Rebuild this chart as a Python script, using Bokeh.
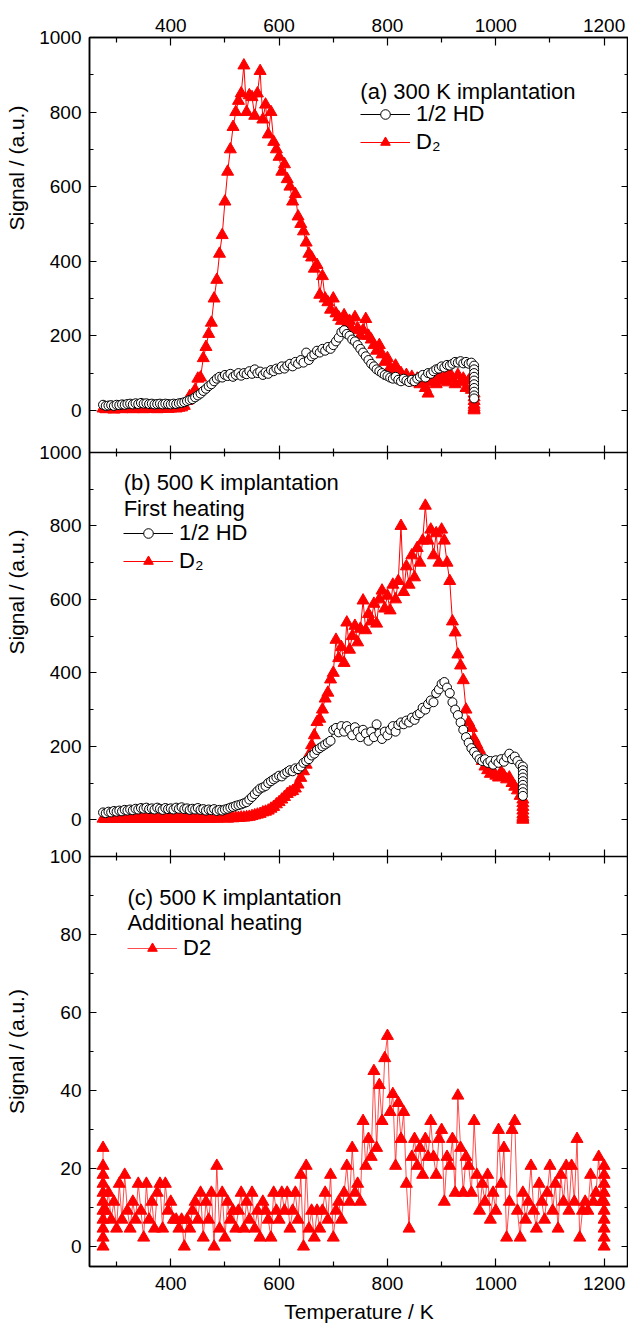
from bokeh.plotting import figure
from bokeh.models import (Range1d, LinearAxis, FixedTicker, Legend, LegendItem,
                          Label, CustomJSTickFormatter)
from bokeh.embed import file_html
from bokeh.resources import INLINE

FONT = "Liberation Sans"

# ---------------- data ----------------
x_major = [400, 600, 800, 1000, 1200]
x_minor = [300, 500, 700, 900, 1100]
y_major_ab = [0, 200, 400, 600, 800, 1000]
y_minor_ab = [100, 300, 500, 700, 900]
y_major_c = [0, 20, 40, 60, 80, 100]
y_minor_c = [10, 30, 50, 70, 90]

# (a) 300 K implantation
T_a = list(range(275, 960, 5))
a_d2_main = [
    5, 3, 4, 6, 2, 5, 4, 3, 6, 5,
    4, 3, 5, 6, 4, 3, 5, 4, 6, 5,
    3, 4, 5, 6, 4, 5, 6, 5, 7, 8,
    12, 25, 38, 42, 55, 85, 88, 140, 170, 205,
    235, 300, 350, 420, 470, 560, 640, 700, 760, 800,
    830, 850, 925, 800, 845, 840, 790, 850, 910, 780,
    820, 740, 800, 720, 700, 680, 640, 660, 620, 600,
    560, 580, 520, 500, 480, 450, 420, 410, 380, 390,
    310, 360, 300, 290, 270, 300, 260, 250, 240, 255,
    230, 240, 215, 250, 220, 200, 215, 245, 200, 190,
    175, 160, 175, 150, 130, 140, 115, 105, 120, 95,
    100, 85, 95, 80, 90, 75, 85, 70, 80, 60,
    45, 75, 85, 70, 95, 80, 90, 75, 100, 85,
    70, 95, 75, 85, 60, 80, 55]
a_d2_end = [45, 35, 25, 15, 8, 3, 0]
a_hd_main = [
    15, 12, 13, 14, 12, 15, 14, 16, 15, 17,
    18, 16, 19, 17, 20, 18, 19, 17, 18, 16,
    17, 18, 16, 18, 17, 16, 18, 17, 19, 20,
    22, 25, 28, 30, 35, 40, 45, 52, 58, 65,
    70, 78, 85, 90, 88, 95, 92, 98, 90, 95,
    100, 93, 100, 97, 105, 98, 110, 100, 104, 95,
    102, 98, 108, 105, 112, 110, 118, 112, 120, 125,
    118, 130, 125, 135, 128, 155, 135, 145, 150, 160,
    155, 165, 160, 170, 165, 175, 185, 195, 210, 215,
    205, 200, 190, 185, 175, 165, 155, 145, 135, 125,
    118, 110, 105, 100, 95, 92, 88, 85, 90, 82,
    78, 85, 80, 76, 82, 78, 85, 90, 95, 88,
    100, 98, 105, 110, 112, 118, 115, 122, 120, 125,
    130, 128, 132, 126, 130, 125, 128]
a_hd_end = [120, 110, 100, 90, 80, 70, 60, 50, 40, 32]

# (b) 500 K implantation, first heating
T_b = list(range(275, 1050, 5))
b_hd_main = [
    20, 18, 22, 20, 24, 22, 25, 23, 27, 25,
    28, 26, 30, 28, 32, 30, 33, 29, 31, 28,
    33, 30, 27, 32, 29, 31, 28, 33, 30, 34,
    29, 31, 27, 30, 28, 32, 27, 29, 25, 28,
    26, 29, 24, 27, 25, 28, 30, 33, 35, 38,
    40, 42, 45, 48, 55, 62, 70, 78, 85, 88,
    92, 100, 105, 110, 115, 120, 118, 125, 130, 135,
    132, 140, 138, 145, 155, 160, 165, 175, 180, 190,
    195, 200, 205, 210, 215, 245, 250, 238, 255, 240,
    255, 245, 230, 252, 240, 225, 245, 235, 215, 240,
    225, 260, 235, 220, 240, 230, 245, 255, 240, 258,
    265, 260, 270, 265, 278, 272, 285, 290, 305, 300,
    315, 325, 320, 345, 355, 370, 375, 360, 345, 320,
    300, 285, 265, 245, 225, 210, 195, 185, 175, 165,
    160, 165, 155, 160, 150, 162, 155, 165, 158, 170,
    180, 165, 172, 160, 150]
b_hd_end = [145, 135, 125, 115, 105, 95, 85, 75, 65]
b_d2_main = [
    3, 2, 4, 3, 2, 3, 4, 2, 3, 2,
    3, 4, 2, 3, 2, 3, 4, 3, 2, 3,
    2, 3, 4, 3, 2, 3, 3, 4, 2, 3,
    3, 2, 3, 4, 3, 2, 3, 3, 4, 3,
    4, 3, 3, 4, 5, 4, 3, 5, 4, 5,
    5, 6, 6, 7, 8, 10, 12, 14, 16, 20,
    22, 25, 30, 35, 42, 48, 55, 62, 70, 75,
    78, 85, 96, 114, 132, 150, 176, 203, 230, 266,
    275, 300, 330, 346, 382, 400, 490, 440, 470, 427,
    537, 463, 500, 528, 483, 520, 597, 516, 560, 540,
    588, 534, 600, 624, 575, 610, 570, 640, 600, 650,
    800, 620, 690, 640, 720, 660, 740, 700, 760, 855,
    760, 790, 720, 780, 700, 790, 760, 700, 650, 540,
    510, 450, 420, 380, 300, 265, 250, 220, 205, 190,
    160, 145, 135, 125, 128, 120, 115, 130, 120, 110,
    115, 100, 90, 80, 65]
b_d2_end = [55, 45, 35, 25, 15, 8, 3, 0]

# (c) 500 K implantation, additional heating
c_start = [25.3, 20.7, 18.4, 16.1, 13.8, 11.5, 9.2, 6.9, 4.6, 2.3, 0]
T_c_main = list(range(280, 1200, 5))
c_main = [
    9.2, 13.8, 6.9, 11.5, 4.6, 16.1, 6.9, 18.4, 9.2, 4.6,
    11.5, 6.9, 16.1, 9.2, 2.3, 16.1, 6.9, 11.5, 4.6, 13.8,
    16.1, 4.6, 16.1, 9.2, 11.5, 6.9, 6.9, 4.6, 6.9, 0,
    6.9, 4.6, 9.2, 11.5, 6.9, 13.8, 2.3, 11.5, 6.9, 13.8,
    0, 20.7, 4.6, 13.8, 2.3, 11.5, 6.9, 9.2, 4.6, 9.2,
    13.8, 4.6, 11.5, 6.9, 13.8, 4.6, 9.2, 2.3, 11.5, 9.2,
    6.9, 2.3, 13.8, 9.2, 6.9, 13.8, 9.2, 13.8, 4.6, 9.2,
    13.8, 6.9, 18.4, 0, 20.7, 4.6, 9.2, 2.3, 9.2, 4.6,
    9.2, 13.8, 6.9, 18.4, 2.3, 9.2, 11.5, 6.9, 13.8, 20.7,
    11.5, 25.3, 13.8, 16.1, 11.5, 32.2, 20.7, 27.6, 23, 45,
    25.3, 41.4, 32.2, 48.3, 54, 34.5, 39.1, 20.7, 36.8, 27.6,
    34.5, 16.1, 4.6, 23, 27.6, 20.7, 25.3, 18.4, 27.6, 23,
    32.2, 23, 18.4, 27.6, 29.9, 11.5, 23, 20.7, 27.6, 13.8,
    38.7, 25.3, 13.8, 23, 20.7, 13.8, 32.2, 18.4, 9.2, 16.1,
    11.5, 18.4, 6.9, 13.8, 9.2, 29.9, 16.1, 25.3, 2.3, 11.5,
    29.9, 32.2, 9.2, 2.3, 13.8, 6.9, 11.5, 20.7, 9.2, 4.6,
    16.1, 11.5, 6.9, 13.8, 20.7, 9.2, 16.1, 4.6, 18.4, 11.5,
    20.7, 9.2, 20.7, 11.5, 27.6, 2.3, 9.2, 11.5, 9.2, 18.4,
    11.5, 13.8, 23, 11.5]
c_end = [20.7, 18.4, 16.1, 13.8, 11.5, 9.2, 6.9, 4.6, 2.3, 0]

# assembled series
Ta_d2 = T_a + [960] * len(a_d2_end)
a_d2 = a_d2_main + a_d2_end
Ta_hd = T_a + [960] * len(a_hd_end)
a_hd = a_hd_main + a_hd_end
Tb_d2 = T_b + [1050] * len(b_d2_end)
b_d2 = b_d2_main + b_d2_end
Tb_hd = T_b + [1050] * len(b_hd_end)
b_hd = b_hd_main + b_hd_end
Tc = [275] * len(c_start) + T_c_main + [1200] * len(c_end)
c_d2 = c_start + c_main + c_end

# ---------------- layout ----------------
H = 1229          # total frame height (px) of the three stacked panels
X0, X1 = 250, 1245
BANDS = {                      # value span -> vertical band of the frame
    "a": ((-113, 1000), (814, 1229)),
    "b": ((-100, 1000), (410, 814)),
    "c": ((-5.1, 100), (0, 410)),
}


def band_range(name):
    (v0, v1), (b0, b1) = BANDS[name]
    k = (b1 - b0) / (v1 - v0)
    s = v0 - b0 / k
    return Range1d(s, s + H / k)


def to_frame(name, v):
    (v0, v1), (b0, b1) = BANDS[name]
    return b0 + (v - v0) * (b1 - b0) / (v1 - v0)


p = figure(frame_width=539, frame_height=H,
           x_range=Range1d(X0, X1), y_range=Range1d(0, H),
           x_axis_location=None, y_axis_location=None,
           min_border_left=89, min_border_right=0,
           min_border_top=37, min_border_bottom=0,
           output_backend="svg", toolbar_location=None,
           background_fill_color="white", border_fill_color="white")
p.extra_y_ranges = {n: band_range(n) for n in BANDS}
for g in p.grid:
    g.visible = False
p.outline_line_color = "black"
p.outline_line_width = 1.5

blank = CustomJSTickFormatter(code="return ''")


def style(ax, tin=8, tout=0, mtin=5, mtout=0, labels=True):
    ax.axis_line_color = "black"
    ax.axis_line_width = 1.5
    ax.major_tick_line_color = "black"
    ax.major_tick_line_width = 1.2
    ax.minor_tick_line_color = "black"
    ax.minor_tick_line_width = 1.2
    ax.major_tick_in = tin
    ax.major_tick_out = tout
    ax.minor_tick_in = mtin
    ax.minor_tick_out = mtout
    ax.major_label_text_font = FONT
    ax.major_label_text_font_size = "19px"
    ax.major_label_text_color = "black"
    ax.axis_label_text_font = FONT
    ax.axis_label_text_font_size = "21px"
    ax.axis_label_text_font_style = "normal"
    ax.axis_label_text_color = "black"
    if not labels:
        ax.formatter = blank
        ax.major_label_standoff = 0
    return ax


# x axes
xt = FixedTicker(ticks=x_major, minor_ticks=x_minor)
top = style(LinearAxis(ticker=xt, major_label_standoff=6))
p.add_layout(top, "above")
bottom = style(LinearAxis(ticker=xt, major_label_standoff=10,
                          axis_label="Temperature / K", axis_label_standoff=7))
p.add_layout(bottom, "below")
for loc in (BANDS["b"][1][0], BANDS["a"][1][0]):
    inner = style(LinearAxis(ticker=xt, fixed_location=loc), tin=7, tout=7,
                  mtin=4, mtout=4, labels=False)
    p.add_layout(inner, "below")

# y axes: all three panels share one left and one right axis
ticks_pos, ticks_lab, minor_pos = [], [], []
for name, maj, mnr in (("a", y_major_ab, y_minor_ab),
                       ("b", y_major_ab, y_minor_ab),
                       ("c", y_major_c, y_minor_c)):
    for v in maj:
        ticks_pos.append(to_frame(name, v))
        ticks_lab.append(str(v))
    minor_pos += [to_frame(name, v) for v in mnr]
title_pos = [to_frame("a", 650), to_frame("b", 620), to_frame("c", 50)]

yt = FixedTicker(ticks=ticks_pos, minor_ticks=minor_pos)
lab_fmt = CustomJSTickFormatter(args=dict(pos=ticks_pos, lab=ticks_lab), code="""
for (let i = 0; i < pos.length; i++) {
  if (Math.abs(tick - pos[i]) < 0.01) return lab[i];
}
return '';
""")
left = style(LinearAxis(ticker=yt, formatter=lab_fmt, major_label_standoff=8),
             tin=7, mtin=4)
p.add_layout(left, "left")
title_ax = style(LinearAxis(ticker=FixedTicker(ticks=title_pos, minor_ticks=[]),
                            formatter=CustomJSTickFormatter(code="return 'Signal / (a.u.)'"),
                            major_label_standoff=8,
                            major_label_orientation="vertical"),
                 tin=0, mtin=0)
title_ax.axis_line_alpha = 0
title_ax.major_label_text_font_size = "21px"
p.add_layout(title_ax, "left")
right = style(LinearAxis(ticker=yt), tin=7, mtin=4, labels=False)
p.add_layout(right, "right")

# ---------------- series ----------------
RED = "#ff0000"


def d2(x, y, rng, alpha=1.0):
    ln = p.line(x, y, y_range_name=rng, line_color=RED, line_width=1,
                line_alpha=alpha)
    sc = p.scatter(x, y, y_range_name=rng, marker="triangle", size=12,
                   fill_color=RED, line_color=RED, line_width=1)
    return ln, sc


def hd(x, y, rng):
    ln = p.line(x, y, y_range_name=rng, line_color="black", line_width=1)
    sc = p.scatter(x, y, y_range_name=rng, marker="circle", size=9,
                   fill_color="white", line_color="black", line_width=1)
    return ln, sc


a_d2_r = d2(Ta_d2, a_d2, "a")
a_hd_r = hd(Ta_hd, a_hd, "a")
b_d2_r = d2(Tb_d2, b_d2, "b")
b_hd_r = hd(Tb_hd, b_hd, "b")
c_d2_r = d2(Tc, c_d2, "c", alpha=0.7)


def legend(items, loc):
    lg = Legend(items=[LegendItem(label=t, renderers=list(r)) for t, r in items],
                location=loc, padding=0, margin=0, spacing=2,
                glyph_width=50, glyph_height=24, label_height=24,
                label_standoff=6, border_line_alpha=0,
                background_fill_alpha=0,
                label_text_font=FONT, label_text_font_size="22px",
                label_text_color="black")
    p.add_layout(lg)


legend([("1/2 HD", a_hd_r), ("D\u2082", a_d2_r)], (271, 1111))
legend([("1/2 HD", b_hd_r), ("D\u2082", b_d2_r)], (34, 692))
legend([("D2", c_d2_r)], (38, 305))


def header(x, y, rng, text):
    p.add_layout(Label(x=x, y=y, y_range_name=rng, text=text,
                       text_font=FONT, text_font_size="22px",
                       text_color="black", text_align="left",
                       text_baseline="middle"))


header(750, 854, "a", "(a) 300 K implantation")
header(313, 918, "b", "(b) 500 K implantation")
header(313, 847, "b", "First heating")
header(320, 89.5, "c", "(c) 500 K implantation")
header(320, 83.2, "c", "Additional heating")

open("out.html", "w").write(file_html(p, INLINE))
